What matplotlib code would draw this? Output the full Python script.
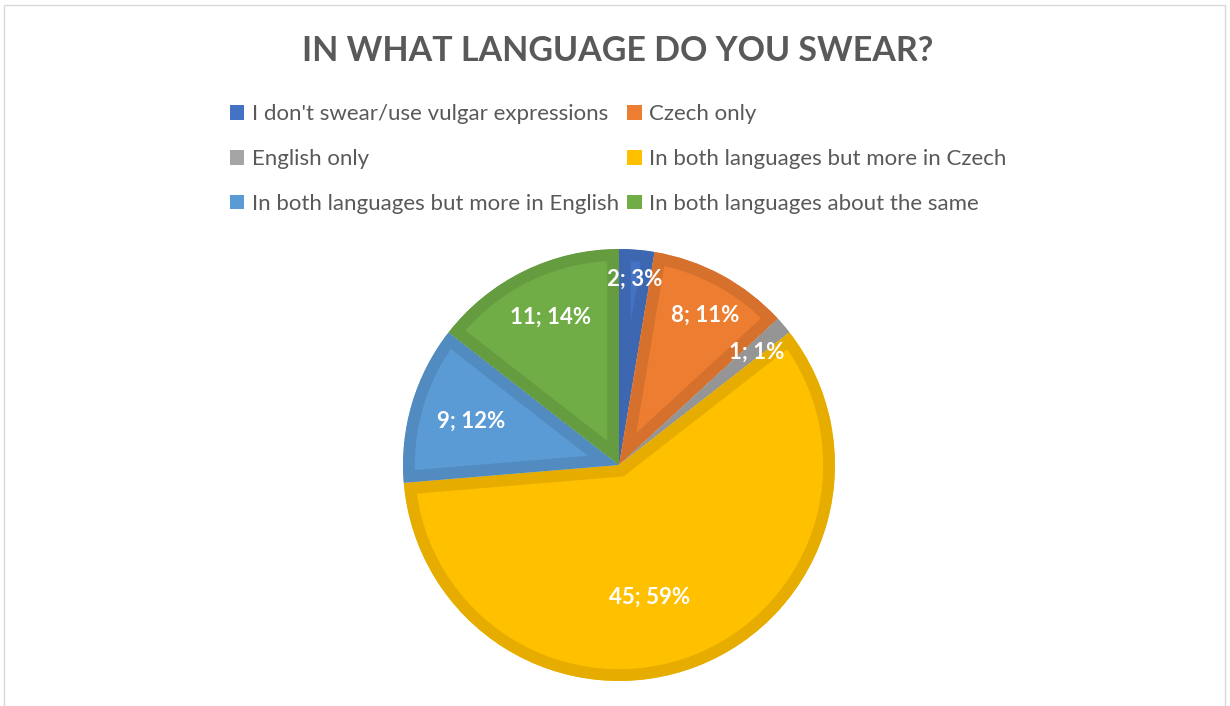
import matplotlib
matplotlib.use("Agg")
import matplotlib.pyplot as plt
import matplotlib.colors as mcolors
from matplotlib.patches import Rectangle, Wedge
import numpy as np

categories = [
    "I don't swear/use vulgar expressions",
    "Czech only",
    "English only",
    "In both languages but more in Czech",
    "In both languages but more in English",
    "In both languages about the same",
]
counts = [2, 8, 1, 45, 9, 11]
percents = [3, 11, 1, 59, 12, 14]
title = "IN WHAT LANGUAGE DO YOU SWEAR?"

colors = ["#4472C4", "#ED7D31", "#A5A5A5", "#FFC000", "#5B9BD5", "#70AD47"]
label_dist = [0.88, 0.815, 0.84, 0.64, 0.73, 0.77]
label_ang_off = [0, -1.4, -1.0, -8.2, 0, -1.3]

FONT = ["Lato", "DejaVu Sans"]
plt.rcParams['font.family'] = FONT

W, H = 1230, 706
fig = plt.figure(figsize=(W / 100, H / 100), dpi=100)
fig.patch.set_facecolor("white")

# light frame around chart
fig.patches.append(Rectangle((4 / W, -0.01), (W - 9) / W, (H - 4) / H + 0.01 - 1 / H,
                             transform=fig.transFigure, fill=False,
                             edgecolor="#D9D9D9", linewidth=1.0))

cx, cy, R = 619, 465, 216
ax = fig.add_axes([(cx - R) / W, (H - cy - R) / H, 2 * R / W, 2 * R / H])

edge_cols = [tuple(np.array(mcolors.to_rgb(c)) * 0.9) for c in colors]
wedges, _ = ax.pie(counts, colors=colors, startangle=90, counterclock=False,
                   radius=1.0, wedgeprops=dict(linewidth=17, joinstyle="miter"))
ax.set_xlim(-1.0, 1.0)
ax.set_ylim(-1.0, 1.0)
ax.set_aspect("equal")
ax.axis("off")
for w, ec in zip(wedges, edge_cols):
    w.set_edgecolor(ec)
    clipw = Wedge(w.center, w.r, w.theta1, w.theta2, transform=ax.transData)
    w.set_clip_on(True)
    w.set_clip_path(clipw)

total = sum(counts)
cum = 0
for i, (c, p) in enumerate(zip(counts, percents)):
    mid = 90 - (cum + c / 2) / total * 360 + label_ang_off[i]
    cum += c
    r = label_dist[i] * 0.98
    x, y = r * np.cos(np.radians(mid)), r * np.sin(np.radians(mid))
    ax.text(x, y, f"{c}; {p}%", ha="center", va="center", color="white",
            fontsize=16, fontweight="bold")

fig.text(618 / W, 1 - 51 / H, title, ha="center", va="center",
         fontsize=24.5, fontweight="bold", color="#595959")

order = [0, 2, 4, 1, 3, 5]
handles = [Rectangle((0, 0), 1, 1, facecolor=colors[i], edgecolor="none") for i in order]
labels = [categories[i] for i in order]
leg = fig.legend(handles, labels, ncol=2, loc="upper left",
                 bbox_to_anchor=(230 / W, 1 - 104 / H), frameon=False,
                 fontsize=16, handlelength=0.65, handleheight=0.65, handletextpad=0.35,
                 labelspacing=1.12, columnspacing=0.35, borderaxespad=0, borderpad=0)
for t in leg.get_texts():
    t.set_color("#595959")

fig.savefig("out.png", dpi=100, facecolor="white")
